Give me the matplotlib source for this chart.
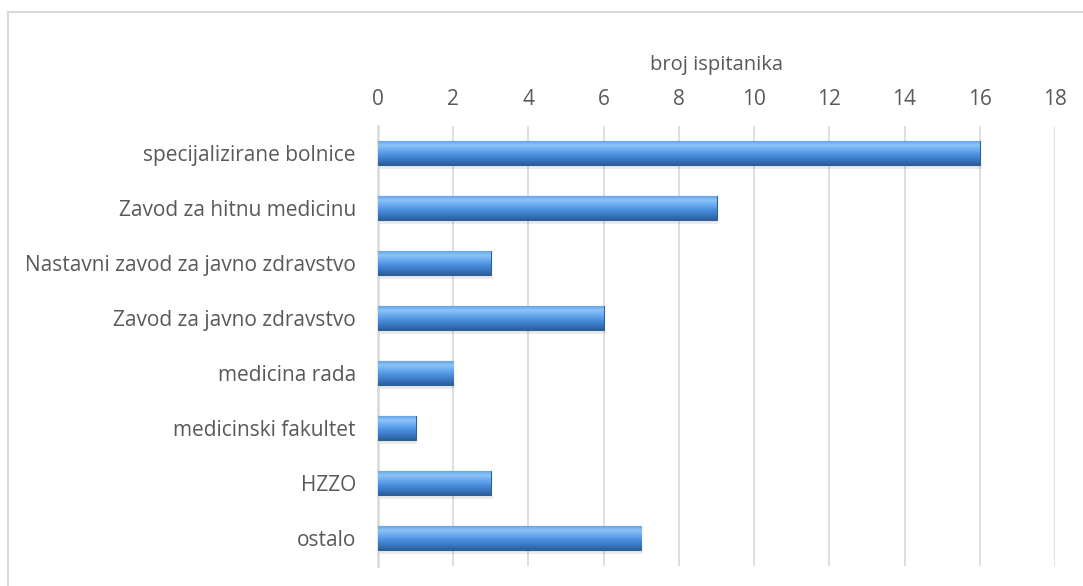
import numpy as np
import matplotlib.pyplot as plt
from matplotlib.colors import LinearSegmentedColormap
from matplotlib.patches import Rectangle

categories = ['specijalizirane bolnice', 'Zavod za hitnu medicinu',
              'Nastavni zavod za javno zdravstvo', 'Zavod za javno zdravstvo',
              'medicina rada', 'medicinski fakultet', 'HZZO', 'ostalo']
values = [16, 9, 3, 6, 2, 1, 3, 7]
x_ticks = [0, 2, 4, 6, 8, 10, 12, 14, 16, 18]

plt.rcParams['font.family'] = ['Open Sans', 'DejaVu Sans']
txt = '#595959'
grid = '#d9d9d9'

fig = plt.figure(figsize=(10.83, 5.86), dpi=100)
# outer chart border
fig.patches.append(Rectangle((8 / 1083, -0.01), 1.1, 1 - 12 / 586 + 0.01,
                             transform=fig.transFigure, fill=False,
                             edgecolor=grid, linewidth=1.5))

ax = fig.add_axes([378 / 1083, 1 - 565.5 / 586, 677 / 1083, 440 / 586])
y_pos = np.arange(len(categories))

bars = ax.barh(y_pos, values, height=0.45, color='#4a8bd8',
               edgecolor='#2f5f95', linewidth=0.8, zorder=3)

# vertical gradient fill for each bar
cmap = LinearSegmentedColormap.from_list(
    'bevel', ['#2a5e9c', '#3a78c2', '#4a8fdd', '#6aa9ee', '#8cc4f7', '#5d9fe6'])
grad = np.linspace(0, 1, 64).reshape(-1, 1)
for b in bars:
    x0, y0 = b.get_x(), b.get_y()
    w, h = b.get_width(), b.get_height()
    im = ax.imshow(grad, cmap=cmap, aspect='auto', origin='lower',
                   extent=(x0, x0 + w, y0 + h, y0), zorder=3.5)
    im.set_clip_path(b)
    # faint shadow beneath
    ax.add_patch(Rectangle((x0, y0 + h), w + 0.05, 0.06, color='#000000',
                           alpha=0.08, linewidth=0, zorder=2))

ax.set_xlim(0, 18)
ax.set_ylim(len(categories) - 0.5, -0.5)
ax.set_xticks(x_ticks)
ax.set_yticks(y_pos)
ax.set_yticklabels(categories)
ax.xaxis.tick_top()
ax.xaxis.set_label_position('top')
ax.set_xlabel('broj ispitanika', fontsize=14.5, color=txt, labelpad=14)
ax.tick_params(axis='x', length=0, pad=11, labelsize=15, labelcolor=txt)
ax.tick_params(axis='y', length=0, pad=16, labelsize=15, labelcolor=txt)

ax.grid(axis='x', color=grid, linewidth=1.2, zorder=0)
for s in ['top', 'right', 'bottom']:
    ax.spines[s].set_visible(False)
ax.spines['left'].set_color(grid)
ax.spines['left'].set_linewidth(1.8)

plt.savefig('out.png', dpi=100)
